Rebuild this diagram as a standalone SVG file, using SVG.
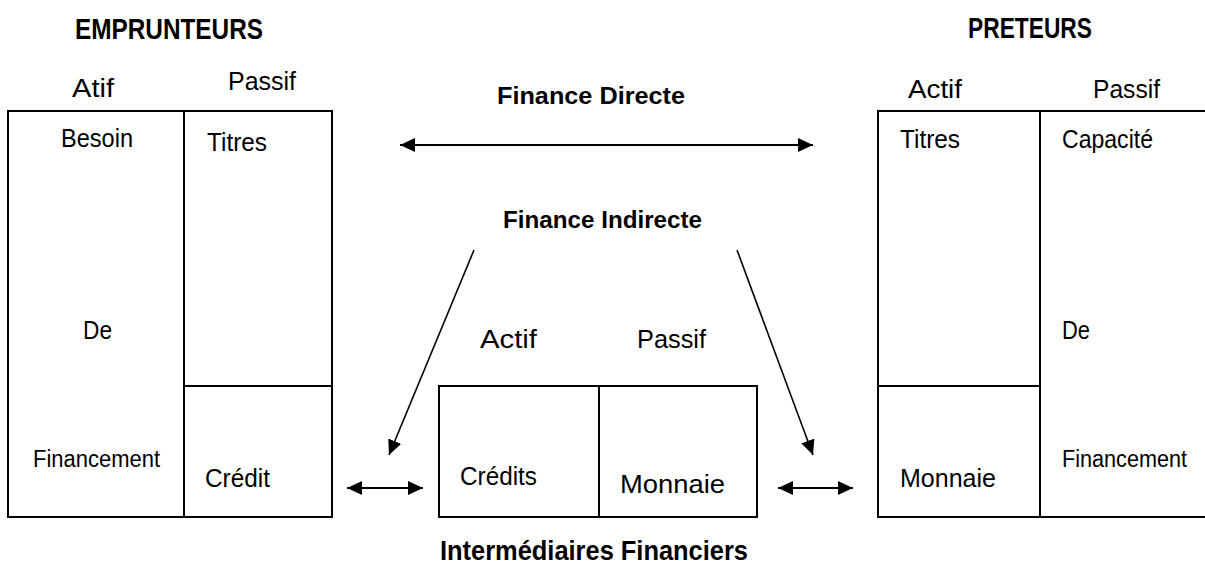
<svg xmlns="http://www.w3.org/2000/svg" width="1205" height="564" viewBox="0 0 1205 564">
<style>
.t{font-family:"Liberation Sans",Arial,sans-serif;font-size:26px;fill:#000}
.s{font-family:"Liberation Sans",Arial,sans-serif;font-size:23px;fill:#000}
.b{font-family:"Liberation Sans",Arial,sans-serif;font-weight:bold;fill:#000}
.box{fill:#fff;stroke:#000;stroke-width:2}
.ln{stroke:#000;stroke-width:2;fill:none}
.ar{stroke:#000;stroke-width:2;fill:none;marker-start:url(#h);marker-end:url(#h)}
.ae{stroke:#000;stroke-width:1.6;fill:none;marker-end:url(#h)}
</style>
<defs>
<marker id="h" viewBox="0 0 15 14" refX="15" refY="7" markerWidth="15" markerHeight="14" markerUnits="userSpaceOnUse" orient="auto-start-reverse">
<path d="M0,0 L15,7 L0,14 Z" fill="#000"/>
</marker>
</defs>
<rect width="1205" height="564" fill="#fff"/>

<g id="emprunteurs">
<text class="b" x="75" y="39" font-size="29" textLength="188" lengthAdjust="spacingAndGlyphs">EMPRUNTEURS</text>
<text class="t" x="72" y="97" textLength="42" lengthAdjust="spacingAndGlyphs">Atif</text>
<text class="t" x="228" y="90" textLength="68" lengthAdjust="spacingAndGlyphs">Passif</text>
<rect class="box" x="8" y="111" width="324" height="406"/>
<line class="ln" x1="184" y1="111" x2="184" y2="517"/>
<line class="ln" x1="184" y1="386" x2="332" y2="386"/>
<text class="t" x="61" y="147" textLength="72" lengthAdjust="spacingAndGlyphs">Besoin</text>
<text class="t" x="207" y="151" textLength="60" lengthAdjust="spacingAndGlyphs">Titres</text>
<text class="t" x="83" y="339" textLength="29" lengthAdjust="spacingAndGlyphs">De</text>
<text class="s" x="33" y="467" textLength="127" lengthAdjust="spacingAndGlyphs">Financement</text>
<text class="t" x="205" y="487" textLength="65" lengthAdjust="spacingAndGlyphs">Crédit</text>
</g>

<g id="intermediaires">
<text class="t" x="480" y="348" textLength="57" lengthAdjust="spacingAndGlyphs">Actif</text>
<text class="t" x="637" y="348" textLength="69" lengthAdjust="spacingAndGlyphs">Passif</text>
<rect class="box" x="439" y="386" width="318" height="131"/>
<line class="ln" x1="599" y1="386" x2="599" y2="517"/>
<text class="t" x="460" y="485" textLength="77" lengthAdjust="spacingAndGlyphs">Crédits</text>
<text class="t" x="620" y="493" textLength="105" lengthAdjust="spacingAndGlyphs">Monnaie</text>
<text class="b" x="440" y="560" font-size="28" textLength="308" lengthAdjust="spacingAndGlyphs">Intermédiaires Financiers</text>
</g>

<g id="preteurs">
<text class="b" x="968" y="38" font-size="29" textLength="124" lengthAdjust="spacingAndGlyphs">PRETEURS</text>
<text class="t" x="908" y="98" textLength="54" lengthAdjust="spacingAndGlyphs">Actif</text>
<text class="t" x="1093" y="98" textLength="67" lengthAdjust="spacingAndGlyphs">Passif</text>
<path class="ln" d="M1206,111 H878 V517 H1206"/>
<line class="ln" x1="1040" y1="111" x2="1040" y2="517"/>
<line class="ln" x1="878" y1="386" x2="1040" y2="386"/>
<text class="t" x="900" y="148" textLength="60" lengthAdjust="spacingAndGlyphs">Titres</text>
<text class="t" x="1062" y="148" textLength="91" lengthAdjust="spacingAndGlyphs">Capacité</text>
<text class="t" x="1062" y="339" textLength="28" lengthAdjust="spacingAndGlyphs">De</text>
<text class="t" x="900" y="487" textLength="96" lengthAdjust="spacingAndGlyphs">Monnaie</text>
<text class="s" x="1062" y="467" textLength="125" lengthAdjust="spacingAndGlyphs">Financement</text>
</g>

<g id="labels">
<text class="b" x="497" y="104" font-size="24" textLength="188" lengthAdjust="spacingAndGlyphs">Finance Directe</text>
<text class="b" x="503" y="228" font-size="24" textLength="199" lengthAdjust="spacingAndGlyphs">Finance Indirecte</text>
</g>

<g id="connectors">
<line class="ar" x1="400" y1="145" x2="813" y2="145"/>
<line class="ae" x1="474" y1="250" x2="389" y2="455"/>
<line class="ae" x1="737" y1="250" x2="813" y2="455"/>
<line class="ar" x1="347" y1="488" x2="423" y2="488"/>
<line class="ar" x1="778" y1="488" x2="853" y2="488"/>
</g>
</svg>
